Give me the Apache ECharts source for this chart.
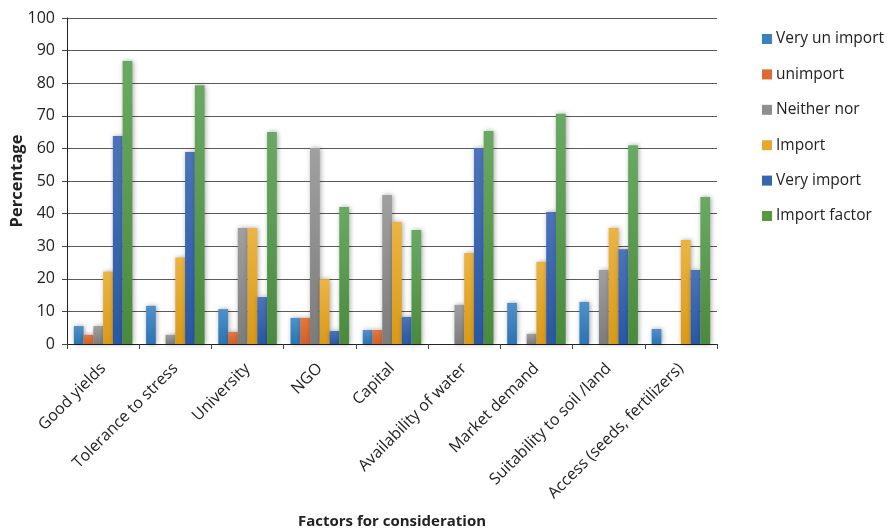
<!DOCTYPE html>
<html>
<head>
<meta charset="utf-8">
<script src="https://cdn.jsdelivr.net/npm/echarts@6/dist/echarts.min.js"></script>
<style>html,body{margin:0;padding:0;background:#fff}#c{width:887px;height:531px}</style>
</head>
<body>
<div id="c"></div>
<script>
var categories = ['Good yields','Tolerance to stress','University','NGO','Capital','Availability of water','Market demand','Suitability to soil /land','Access (seeds, fertilizers)'];
var seriesNames = ['Very un import','unimport','Neither nor','Import','Very import','Import factor'];
var veryUnImport = [5.5, 11.7, 10.7, 8.0, 4.3, 0, 12.6, 12.9, 4.6];
var unimport     = [2.8, 0, 3.7, 8.0, 4.3, 0, 0, 0, 0];
var neitherNor   = [5.5, 2.8, 35.6, 60.1, 45.7, 12.0, 3.1, 22.7, 0];
var importVals   = [22.2, 26.5, 35.6, 19.9, 37.4, 27.9, 25.2, 35.6, 31.9];
var veryImport   = [63.8, 58.9, 14.4, 4.0, 8.3, 60.1, 40.5, 29.1, 22.7];
var importFactor = [86.8, 79.4, 65.0, 42.0, 35.0, 65.3, 70.6, 61.0, 45.1];
var yTicks = [0,10,20,30,40,50,60,70,80,90,100];

var colorsTop = ['#4f90c9','#e27840','#a0a0a0','#ebb443','#4d74ba','#6aa963'];
var colorsBot = ['#2c74b3','#d1602a','#7c7c7c','#d99a17','#2857a3','#4a8a3d'];
var legendColors = ['#3b80c0','#dc6a32','#8e8e8e','#e6a82c','#3564b0','#58993f'];
var allData = [veryUnImport, unimport, neitherNor, importVals, veryImport, importFactor];

var font = '"Open Sans", "Liberation Sans", sans-serif';
var series = seriesNames.map(function(n, i){
  return {
    name: n, type: 'bar', data: allData[i],
    barGap: '0%', barCategoryGap: '19%',
    itemStyle: {
      color: new echarts.graphic.LinearGradient(0,0,0,1,[{offset:0,color:colorsTop[i]},{offset:1,color:colorsBot[i]}]),
      shadowBlur: 5, shadowColor: 'rgba(0,0,0,0.35)', shadowOffsetX: 1, shadowOffsetY: 0
    }
  };
});

var chart = echarts.init(document.getElementById('c'));
chart.setOption({
  animation: false,
  color: legendColors,
  grid: {left: 67, right: 170, top: 18, bottom: 187, containLabel: false, outerBoundsMode: 'none'},
  legend: {
    orient: 'vertical', left: 757, top: 25,
    itemWidth: 10, itemHeight: 10, itemGap: 17.4,
    icon: 'rect',
    data: seriesNames.map(function(n,i){return {name:n, itemStyle:{color:legendColors[i], shadowBlur:0}};}),
    textStyle: {fontFamily: font, fontSize: 15.5, color: '#222', lineHeight: 18, padding:[0,0,0,-1]}
  },
  xAxis: {
    type: 'category', data: categories,
    name: 'Factors for consideration', nameLocation: 'middle', nameGap: 170, nameMoveOverlap: false,
    nameTextStyle: {fontFamily: font, fontSize: 15, fontWeight: 'bold', color: '#222'},
    axisLine: {lineStyle: {color: '#222', width: 1}},
    axisTick: {show: true, length: 5, lineStyle: {color: '#444'}},
    axisLabel: {rotate: 45, fontFamily: font, fontSize: 16, color: '#222', margin: 22, interval: 0}
  },
  yAxis: {
    type: 'value', min: 0, max: 100, interval: 10,
    name: 'Percentage', nameLocation: 'middle', nameGap: 41, nameMoveOverlap: false,
    nameTextStyle: {fontFamily: font, fontSize: 16.5, fontWeight: 'bold', color: '#222'},
    axisLine: {show: true, lineStyle: {color: '#222', width: 1}},
    axisTick: {show: true, length: 5, lineStyle: {color: '#444'}},
    axisLabel: {fontFamily: font, fontSize: 16, color: '#222', margin: 12,
      formatter: function(v){ return yTicks.indexOf(v) >= 0 ? String(v) : ''; }},
    splitLine: {show: true, lineStyle: {color: '#5a5a5a', width: 1}}
  },
  series: series
});
</script>
</body>
</html>
